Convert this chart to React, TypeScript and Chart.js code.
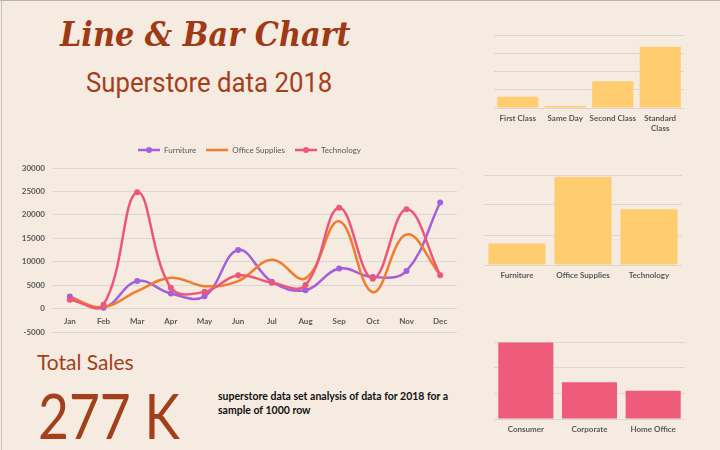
import React, { useEffect, useRef } from "react";
import { Chart, registerables } from "chart.js";

Chart.register(...registerables);

// ---------- data ----------
const months = ["Jan", "Feb", "Mar", "Apr", "May", "Jun", "Jul", "Aug", "Sep", "Oct", "Nov", "Dec"];
const furnitureSales = [2590, 200, 5900, 3240, 2660, 12520, 5760, 3960, 8560, 6760, 8060, 22660];
const officeSuppliesSales = [2300, 360, 3740, 6620, 4820, 5900, 10430, 6470, 18630, 3530, 15830, 7190];
const technologySales = [1940, 860, 24820, 4460, 3600, 7120, 5540, 5040, 21510, 6400, 21220, 7120];
const lineAxisMin = -5000;
const lineAxisMax = 30000;
const lineAxisStep = 5000;

const shipModes = ["First Class", "Same Day", "Second Class", ["Standard", "Class"]];
const shipModeSales = [30600, 4600, 73100, 167600];
const shipAxisMax = 200000;

const categories = ["Furniture", "Office Supplies", "Technology"];
const categoryValues = [30900, 127000, 80500];
const categoryAxisMax = 130000;

const segments = ["Consumer", "Corporate", "Home Office"];
const segmentSales = [148800, 71800, 55000];
const segmentAxisMax = 150000;

const barAxisStep = 50000;

// ---------- style ----------
const BG = "#F5EBE0";
const TICK = "#595959";
const GRID = "#DCD6D0";
const BROWN = "#9E3A16";
const PURPLE = "#A45FDA";
const ORANGE = "#F07D2D";
const RED = "#EE5679";
const YELLOW = "#FFCD6F";
const PINK = "#EE5B7B";
const FONT = "Lato, 'Open Sans', sans-serif";

function legendIcon(color: string, marker: boolean) {
  const c = document.createElement("canvas");
  c.width = 22;
  c.height = 8;
  const g = c.getContext("2d")!;
  g.strokeStyle = color;
  g.lineWidth = 2.5;
  g.beginPath();
  g.moveTo(0, 4);
  g.lineTo(22, 4);
  g.stroke();
  if (marker) {
    g.fillStyle = color;
    g.beginPath();
    g.arc(11, 4, 3, 0, Math.PI * 2);
    g.fill();
  }
  return c;
}

function ChartCanvas(props: { left: number; top: number; width: number; height: number; make: () => any }) {
  const ref = useRef<HTMLCanvasElement>(null);
  useEffect(() => {
    const chart = new Chart(ref.current!, props.make());
    return () => chart.destroy();
  }, []);
  return (
    <canvas
      ref={ref}
      width={props.width}
      height={props.height}
      style={{ position: "absolute", left: props.left, top: props.top, width: props.width, height: props.height }}
    />
  );
}

const tickFont = { family: FONT, size: 8, weight: "bold" as const };

const legendGap = {
  id: "legendGap",
  beforeInit(chart: any) {
    const orig = chart.legend.fit;
    chart.legend.fit = function () {
      orig.bind(chart.legend)();
      this.height += 4;
    };
  },
  afterLayout(chart: any) {
    chart.legend.left += 11;
    chart.legend.right += 11;
  },
};

function lineConfig() {
  const icons = [legendIcon(PURPLE, true), legendIcon(ORANGE, false), legendIcon(RED, true)];
  return {
    type: "line",
    plugins: [legendGap],
    data: {
      labels: months,
      datasets: [
        { label: "Furniture", data: furnitureSales, borderColor: PURPLE, backgroundColor: PURPLE, pointRadius: 3, pointBorderWidth: 0, borderWidth: 2.5, tension: 0.4, order: 2 },
        { label: "Office Supplies", data: officeSuppliesSales, borderColor: ORANGE, backgroundColor: ORANGE, pointRadius: 0, borderWidth: 2.5, tension: 0.4, order: 1 },
        { label: "Technology", data: technologySales, borderColor: RED, backgroundColor: RED, pointRadius: 3, pointBorderWidth: 0, borderWidth: 2.5, tension: 0.4, order: 0 },
      ],
    },
    options: {
      responsive: false,
      animation: false,
      devicePixelRatio: 1,
      layout: { padding: { left: 20, right: 13, top: 0, bottom: 4 } },
      plugins: {
        tooltip: { enabled: false },
        legend: {
          position: "top",
          labels: {
            usePointStyle: true,
            pointStyleWidth: 22,
            boxHeight: 8,
            padding: 10,
            color: TICK,
            font: { family: FONT, size: 8 },
            generateLabels: (chart: any) =>
              chart.data.datasets.map((ds: any, i: number) => ({
                text: ds.label,
                pointStyle: icons[i],
                fillStyle: ds.borderColor,
                strokeStyle: ds.borderColor,
                lineWidth: 0,
                hidden: false,
                datasetIndex: i,
                fontColor: TICK,
              })),
          },
        },
      },
      scales: {
        x: {
          position: { y: 0 },
          offset: true,
          grid: { display: false, drawTicks: false },
          border: { display: false },
          ticks: { color: TICK, font: tickFont, padding: 8, maxRotation: 0, autoSkip: false },
        },
        y: {
          min: lineAxisMin,
          max: lineAxisMax,
          grid: { color: GRID, drawTicks: false },
          border: { display: false },
          afterFit: (s: any) => {
            s.width = 33;
          },
          ticks: { stepSize: lineAxisStep, color: TICK, font: tickFont, padding: 8, callback: (v: any) => String(v) },
        },
      },
    },
  };
}

function barConfig(labels: any[], data: number[], color: string, max: number, padding: any, xHeight: number) {
  return () => ({
    type: "bar",
    data: {
      labels,
      datasets: [{ data, backgroundColor: color, borderWidth: 0, barPercentage: 0.865, categoryPercentage: 1, minBarLength: 2 }],
    },
    options: {
      responsive: false,
      animation: false,
      devicePixelRatio: 1,
      layout: { padding },
      plugins: { legend: { display: false }, tooltip: { enabled: false } },
      scales: {
        x: {
          grid: { display: false, drawTicks: false },
          border: { display: false },
          afterFit: (s: any) => {
            s.height = xHeight;
          },
          ticks: { color: TICK, font: tickFont, padding: 6, maxRotation: 0, autoSkip: false },
        },
        y: {
          min: 0,
          max,
          grid: { color: GRID, drawTicks: false },
          border: { display: false },
          ticks: { display: false, stepSize: barAxisStep, includeBounds: false },
        },
      },
    },
  });
}

export default function App() {
  useEffect(() => {
    document.body.style.margin = "0";
    document.body.style.background = BG;
  }, []);
  return (
    <div style={{ position: "absolute", left: 0, top: 0, width: 720, height: 450, background: BG, overflow: "hidden" }}>
      <div style={{ position: "absolute", left: 0, top: 0, width: 720, height: 1, background: "#B4B0AC" }} />
      <div style={{ position: "absolute", left: 1, top: 0, width: 1, height: 450, background: "#C8C4C0" }} />

      <div
        style={{
          position: "absolute",
          left: 60,
          top: 15,
          fontFamily: "'DejaVu Serif', serif",
          fontStyle: "italic",
          fontWeight: "bold",
          fontSize: 33,
          color: BROWN,
          whiteSpace: "nowrap",
          transform: "scaleX(0.92)",
          transformOrigin: "left top",
          lineHeight: "40px",
        }}
      >
        Line &amp; Bar Chart
      </div>
      <div
        style={{
          position: "absolute",
          left: 86,
          top: 65,
          fontFamily: "Roboto, sans-serif",
          fontSize: 28,
          color: "#A3401C",
          whiteSpace: "nowrap",
          transform: "scaleX(0.92)",
          transformOrigin: "left top",
          lineHeight: "36px",
        }}
      >
        Superstore data 2018
      </div>

      <ChartCanvas left={0} top={136} width={470} height={209} make={lineConfig} />

      <ChartCanvas left={480} top={0} width={240} height={136} make={barConfig(shipModes, shipModeSales, YELLOW, shipAxisMax, { left: 14, right: 36, top: 35, bottom: 0 }, 28)} />
      <ChartCanvas left={480} top={160} width={240} height={130} make={barConfig(categories, categoryValues, YELLOW, categoryAxisMax, { left: 4, right: 38, top: 15, bottom: 0 }, 25)} />
      <ChartCanvas left={480} top={320} width={240} height={124} make={barConfig(segments, segmentSales, PINK, segmentAxisMax, { left: 14, right: 35, top: 22, bottom: 0 }, 25)} />

      <div style={{ position: "absolute", left: 37, top: 348, fontFamily: FONT, fontSize: 21, color: "#A3401C", whiteSpace: "nowrap", lineHeight: "28px" }}>
        Total Sales
      </div>
      <div
        style={{
          position: "absolute",
          left: 38,
          top: 379,
          fontFamily: FONT,
          fontSize: 62,
          color: "#A3401C",
          whiteSpace: "nowrap",
          lineHeight: "72px",
          transform: "scaleX(0.86)",
          transformOrigin: "left top",
        }}
      >
        277 K
      </div>
      <div
        style={{
          position: "absolute",
          left: 218,
          top: 389,
          fontFamily: FONT,
          fontWeight: "bold",
          fontSize: 10.5,
          color: "#111",
          whiteSpace: "nowrap",
          lineHeight: "14px",
        }}
      >
        superstore data set analysis of data for 2018 for a
        <br />
        sample of 1000 row
      </div>
    </div>
  );
}
